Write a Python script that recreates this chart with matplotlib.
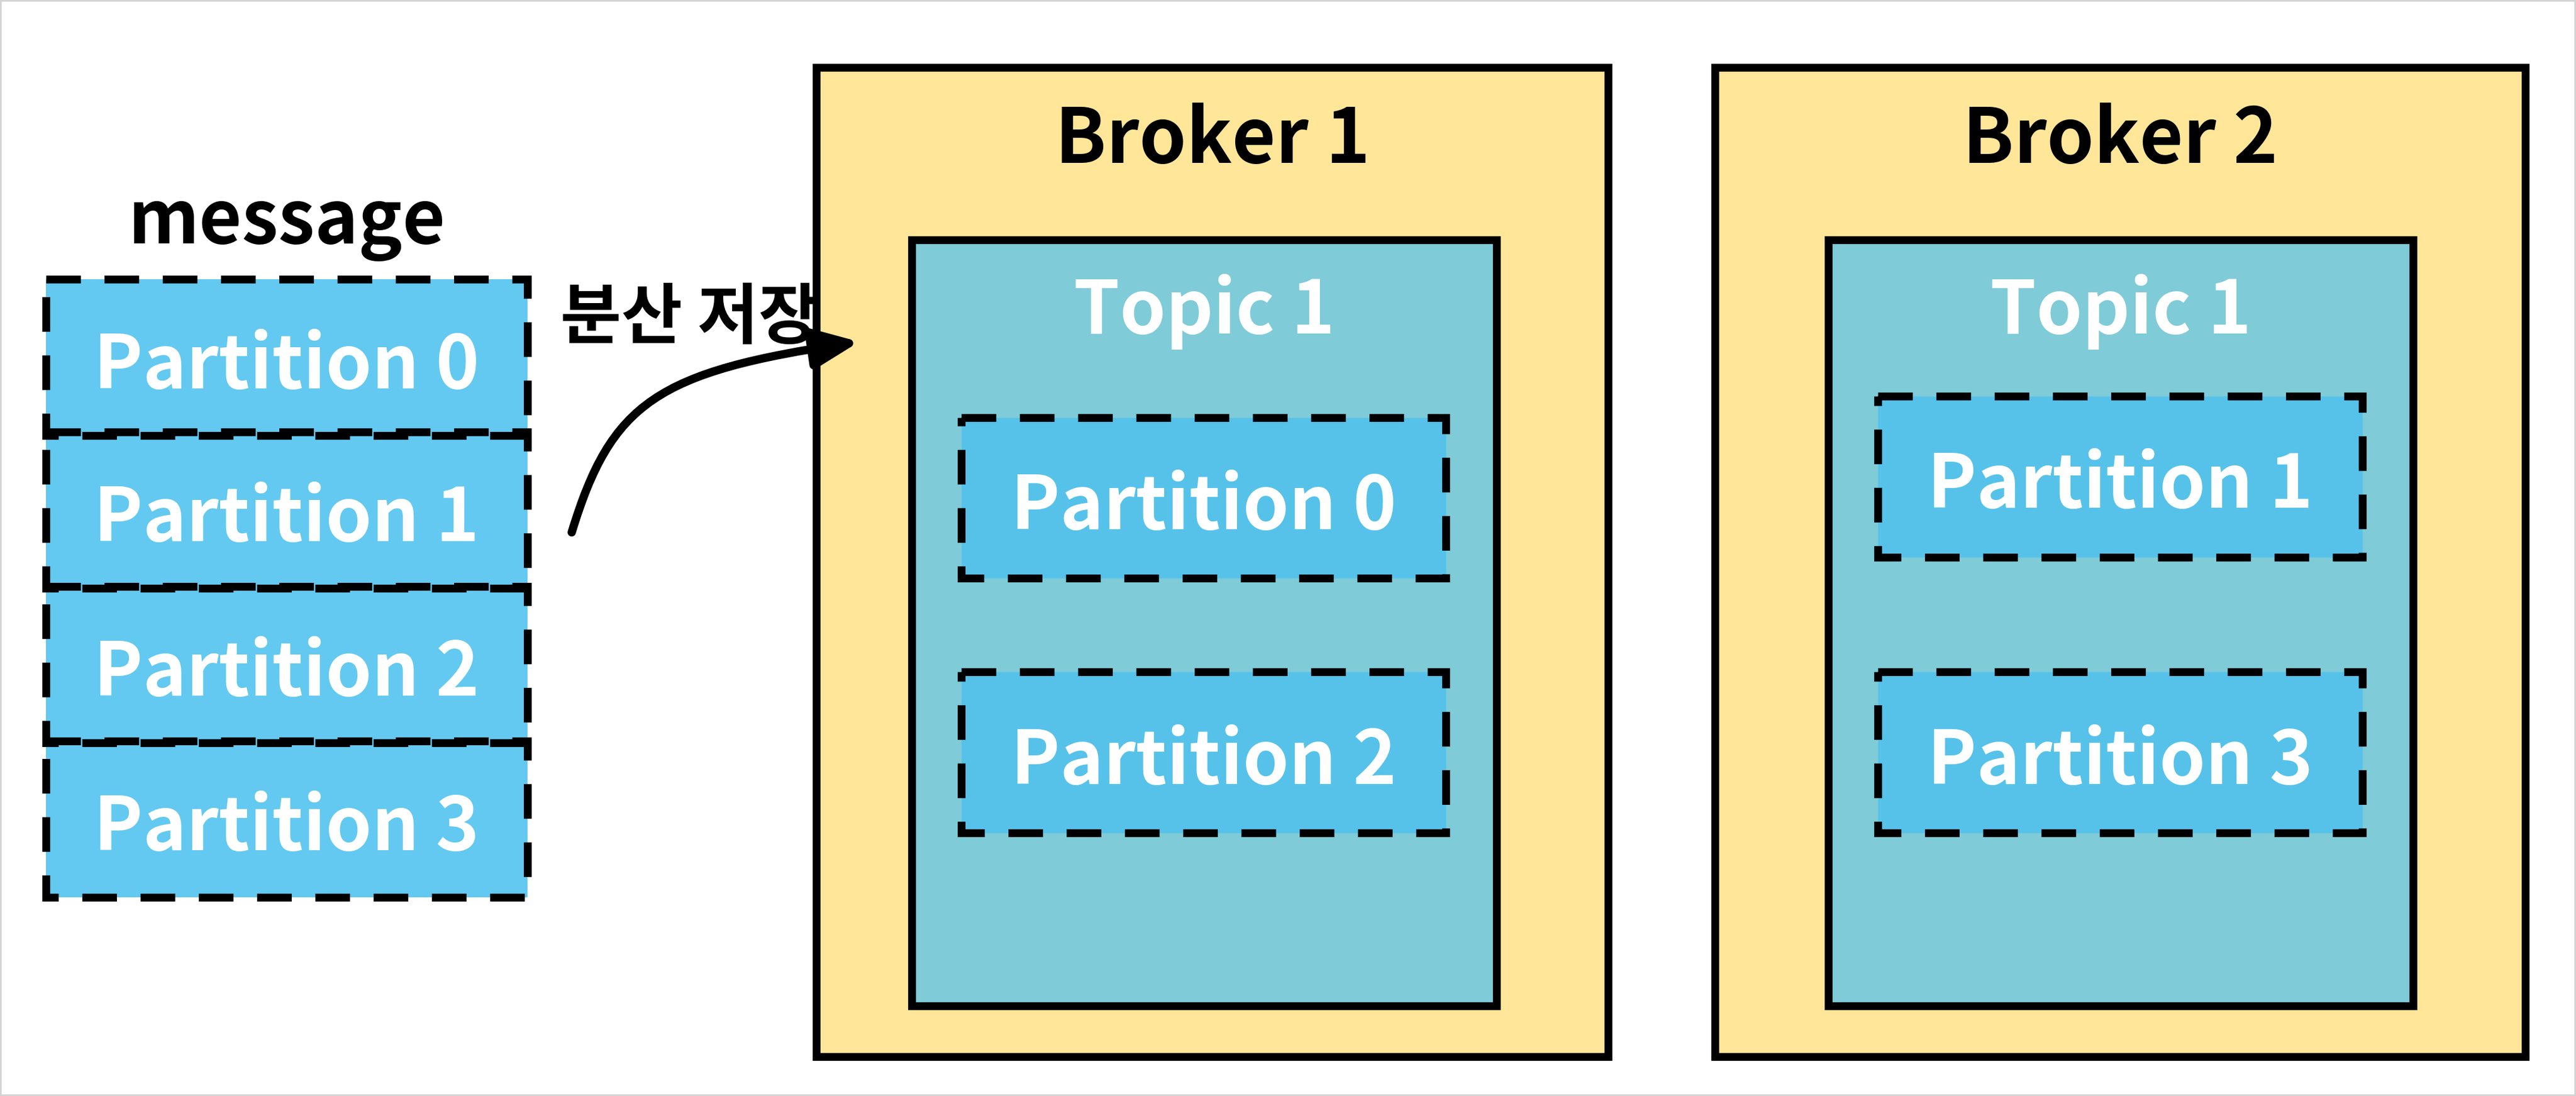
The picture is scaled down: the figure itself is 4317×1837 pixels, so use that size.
import matplotlib
matplotlib.use("Agg")
import matplotlib.pyplot as plt
from matplotlib.patches import Rectangle, FancyArrowPatch
from matplotlib.path import Path

plt.rcParams['font.family'] = ['Noto Sans CJK KR', 'DejaVu Sans']

# content
msg_title = "message"
msg_parts = ["Partition 0", "Partition 1", "Partition 2", "Partition 3"]
brokers = ["Broker 1", "Broker 2"]
topic_name = "Topic 1"
broker_parts = [["Partition 0", "Partition 2"], ["Partition 1", "Partition 3"]]
arrow_label = "분산 저장"

# colours
C_BROKER = "#FFE699"
C_TOPIC = "#7FCBD8"
C_PART = "#56C2EA"
C_MSG = "#63C9F0"

# layout (reference pixel units, 1568 x 667)
W, H = 1568, 667
MSG_X, MSG_W = 28, 293
MSG_Y = [170, 263, 357, 451]
MSG_H = 95
BROKER_X = [497, 1044]
BROKER_W = [482, 493]
BROKER_Y, BROKER_H = 41, 602
TOPIC_X = [555, 1113]
TOPIC_W = 356
TOPIC_Y, TOPIC_H = 146, 466
PART_X = [585, 1143]
PART_W = 295
PART_Y = [[254, 409], [241, 409]]
PART_H = 98

LW_BOX = 9.5
DASH = (0, (4.4, 3.0))
FS_PART = 89

fig = plt.figure(figsize=(43.17, 18.37), dpi=100)
ax = fig.add_axes([0, 0, 1, 1])
ax.set_xlim(0, W)
ax.set_ylim(H, 0)
ax.axis("off")

# outer frame
ax.add_patch(Rectangle((0, 0), W, H, fill=False, ec="#D4D4D4", lw=4, zorder=0))

def text(x, y, s, size, color="black"):
    ax.text(x, y, s, fontsize=size, fontweight="bold", color=color,
            ha="center", va="baseline", zorder=10)

# message stack
text(MSG_X + MSG_W / 2, 148, msg_title, 89)
for y, lab in zip(MSG_Y, msg_parts):
    ax.add_patch(Rectangle((MSG_X, y), MSG_W, MSG_H, fc=C_MSG, ec="none", zorder=2))
for y, lab in zip(MSG_Y, msg_parts):
    ax.add_patch(Rectangle((MSG_X, y), MSG_W, MSG_H, fill=False, ec="black",
                           lw=LW_BOX, ls=DASH, zorder=3))
    text(MSG_X + MSG_W / 2, y + MSG_H / 2 + 19, lab, FS_PART, "white")

# brokers
for i, name in enumerate(brokers):
    ax.add_patch(Rectangle((BROKER_X[i], BROKER_Y), BROKER_W[i], BROKER_H,
                           fc=C_BROKER, ec="black", lw=LW_BOX, zorder=1))
    text(BROKER_X[i] + BROKER_W[i] / 2, 99, name, 91)
    ax.add_patch(Rectangle((TOPIC_X[i], TOPIC_Y), TOPIC_W, TOPIC_H,
                           fc=C_TOPIC, ec="black", lw=LW_BOX, zorder=2))
    text(TOPIC_X[i] + TOPIC_W / 2, 203, topic_name, 89, "white")
    for y, lab in zip(PART_Y[i], broker_parts[i]):
        ax.add_patch(Rectangle((PART_X[i], y), PART_W, PART_H, fc=C_PART,
                               ec="black", lw=LW_BOX, ls=DASH, zorder=3))
        text(PART_X[i] + PART_W / 2, y + PART_H / 2 + 19, lab, FS_PART, "white")

# curved arrow
verts = [(348, 324), (372, 245), (400, 226), (523, 208)]
codes = [Path.MOVETO, Path.CURVE4, Path.CURVE4, Path.CURVE4]
arr = FancyArrowPatch(path=Path(verts, codes), arrowstyle="-|>,head_length=2.3,head_width=1.0",
                      mutation_scale=20, lw=10, color="black", zorder=5,
                      transform=ax.transData)
ax.add_patch(arr)
ax.text(341, 206, arrow_label, fontsize=80, fontweight="bold", ha="left",
        va="baseline", zorder=10)

fig.savefig("out.png", dpi=100)
